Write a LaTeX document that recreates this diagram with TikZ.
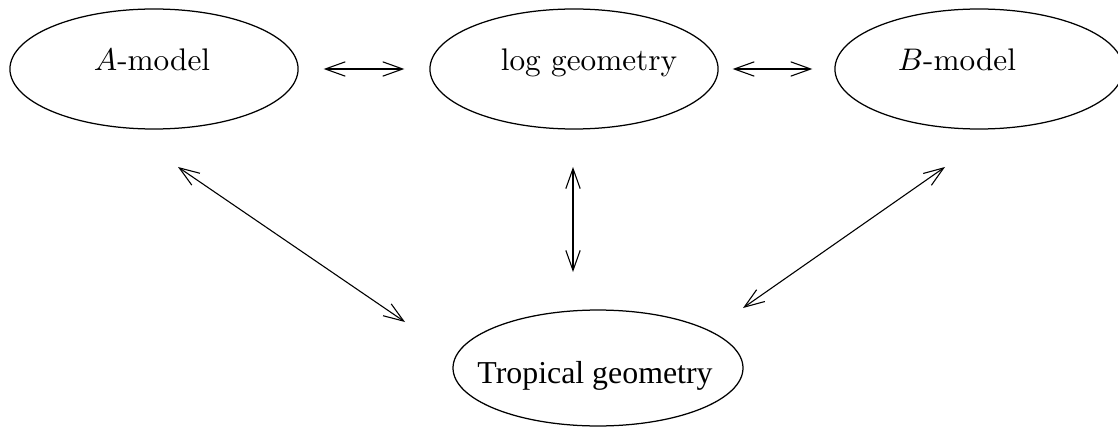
\documentclass[tikz,border=0pt]{standalone}
\usepackage{fontspec}
\newfontfamily\timesf{Liberation Serif}
\usetikzlibrary{shapes.geometric,arrows.meta}
\begin{document}
\begin{tikzpicture}[x=0.32pt,y=-0.32pt,
  oval/.style={draw,ellipse,line width=0.4pt,inner sep=0pt,minimum width=92.2pt,minimum height=38.4pt},
  lab/.style={anchor=base,inner sep=0pt,font=\fontsize{10}{12}\selectfont},
  biarrow/.style={line width=0.35pt,{Straight Barb[length=6.4pt,width=4.6pt]}-{Straight Barb[length=6.4pt,width=4.6pt]}}]
\useasboundingbox (0,0) rectangle (1118,428);
\node[oval] (A) at (154,69) {};
\node[oval] (L) at (574,69) {};
\node[oval] (B) at (979,69) {};
\node[oval,minimum width=92.8pt,minimum height=37.1pt] (T) at (598,368) {};
\node[lab] (At) at (152,71) {$A$-model};
\node[lab] (Lt) at (589,71) {log geometry};
\node[lab] (Bt) at (957,71) {$B$-model};
\node[lab,font=\timesf\fontsize{10.2}{12}\selectfont] (Tt) at (595,383) {Tropical geometry};
\coordinate (a1) at (178,167);
\coordinate (a2) at (405,322);
\coordinate (b1) at (945,167);
\coordinate (b2) at (743,308);
\coordinate (v1) at (573,167);
\coordinate (v2) at (573,272);
\draw[biarrow,shorten <=25*0.32pt,shorten >=25*0.32pt] (A.east) -- (L.west);
\draw[biarrow,shorten <=14*0.32pt,shorten >=22*0.32pt] (L.east) -- (B.west);
\draw[biarrow] (v1) -- (v2);
\draw[biarrow] (a1) -- (a2);
\draw[biarrow] (b1) -- (b2);
\end{tikzpicture}
\end{document}
